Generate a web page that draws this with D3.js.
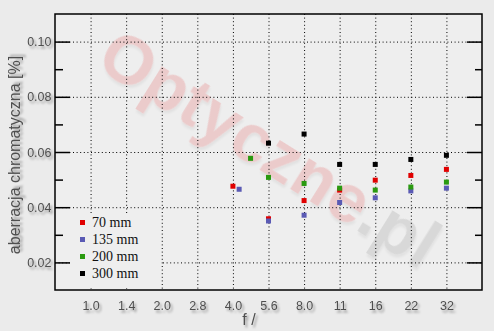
<!DOCTYPE html>
<html>
<head>
<meta charset="utf-8">
<script src="https://cdn.jsdelivr.net/npm/d3@7"></script>
<style>
  body { margin: 0; background: #ebebeb; }
  svg { display: block; }
</style>
</head>
<body>
<div id="chart"></div>
<script>
// f-number tick labels and their true positions (1/2 stop = sqrt2)
const fLabels = ["1.0", "1.4", "2.0", "2.8", "4.0", "5.6", "8.0", "11", "16", "22", "32"];
const fStops = [1, 1.414, 2, 2.828, 4, 5.657, 8, 11.31, 16, 22.63, 32];
const yTicks = [0.02, 0.04, 0.06, 0.08, 0.10];
const yMinor = [0.03, 0.05, 0.07, 0.09];

const seriesNames = ["70 mm", "135 mm", "200 mm", "300 mm"];
const seriesColors = ["#e00000", "#5a5ab4", "#2a9a10", "#000000"];

const f70 = [4, 5.657, 8, 11.31, 16, 22.63, 32];
const ca70 = [0.0476, 0.0358, 0.0424, 0.0462, 0.0498, 0.0515, 0.0537];
const f135 = [4.25, 5.657, 8, 11.31, 16, 22.63, 32];
const ca135 = [0.0465, 0.0350, 0.0371, 0.0417, 0.0434, 0.0459, 0.0469];
const f200 = [4.75, 5.657, 8, 11.31, 16, 22.63, 32];
const ca200 = [0.0577, 0.0508, 0.0486, 0.0469, 0.0462, 0.0473, 0.0491];
const f300 = [5.657, 8, 11.31, 16, 22.63, 32];
const ca300 = [0.0632, 0.0665, 0.0555, 0.0555, 0.0573, 0.0588];

const series = [
  { f: f70, v: ca70 },
  { f: f135, v: ca135 },
  { f: f200, v: ca200 },
  { f: f300, v: ca300 }
];

const w = 494;
const h = 331;
const pLeft = 55, pRight = 482, pTop = 14, pBottom = 290;

const xScale = d3.scaleLog().base(2)
                 .domain([Math.SQRT1_2, 32 * Math.SQRT2])
                 .range([pLeft, pRight]);
const yScale = d3.scaleLinear()
                 .domain([0.01, 0.11])
                 .range([pBottom, pTop]);

const svg = d3.select("#chart")
              .append("svg")
              .attr("width", w)
              .attr("height", h)
              .style("background", "#ebebeb");

const defs = svg.append("defs");
const sh = defs.append("filter").attr("id", "shadow")
  .attr("x", "-20%").attr("y", "-20%").attr("width", "150%").attr("height", "160%");
sh.append("feDropShadow").attr("dx", 2).attr("dy", 2.5).attr("stdDeviation", 1.3)
  .attr("flood-color", "#000").attr("flood-opacity", 0.35);

svg.append("rect")
   .attr("x", pLeft).attr("y", pTop)
   .attr("width", pRight - pLeft).attr("height", pBottom - pTop)
   .attr("fill", "#eeeeee");

// watermark
const wm = svg.append("text")
   .attr("transform", "translate(270,148) rotate(32)")
   .attr("text-anchor", "middle")
   .attr("dominant-baseline", "central")
   .style("font-family", "'Liberation Sans', Arial, sans-serif")
   .style("font-weight", "bold")
   .style("font-size", "68px")
   .attr("opacity", 0.15)
   .attr("filter", "url(#shadow)");
wm.append("tspan").attr("fill", "#e01010").text("Optyczne");
wm.append("tspan").attr("fill", "#606060").text(".pl");

// grid
svg.append("g")
   .attr("transform", "translate(0," + pTop + ")")
   .call(d3.axisBottom(xScale).tickValues(fStops).tickSize(pBottom - pTop).tickFormat(""))
   .call(g => g.select(".domain").remove())
   .call(g => g.selectAll("line").attr("stroke", "#000").attr("stroke-dasharray", "1,2.6"));

svg.append("g")
   .attr("transform", "translate(" + pLeft + ",0)")
   .call(d3.axisRight(yScale).tickValues(yTicks).tickSize(pRight - pLeft).tickFormat(""))
   .call(g => g.select(".domain").remove())
   .call(g => g.selectAll("line").attr("stroke", "#000").attr("stroke-dasharray", "1,2.6"));

// legend box covers grid
const legendX = 70, legendY = 214;
svg.append("rect")
   .attr("x", legendX).attr("y", legendY)
   .attr("width", 91).attr("height", 74)
   .attr("fill", "#eeeeee");

// ticks
const tickStyle = g => {
  g.select(".domain").remove();
  g.selectAll("line").attr("stroke", "#000").attr("stroke-width", 1.5);
};
svg.append("g")
   .attr("transform", "translate(" + pLeft + ",0)")
   .call(d3.axisLeft(yScale).tickValues(yTicks).tickSize(-15).tickPadding(3.5).tickFormat(d3.format(".2f")))
   .call(tickStyle)
   .call(g => g.selectAll("text")
      .attr("fill", "#505050")
      .attr("filter", "url(#shadow)")
      .style("font-family", "'Liberation Sans', Arial, sans-serif")
      .style("font-size", "12.5px"));
svg.append("g")
   .attr("transform", "translate(" + pLeft + ",0)")
   .call(d3.axisLeft(yScale).tickValues(yMinor).tickSize(-8).tickFormat(""))
   .call(tickStyle);
svg.append("g")
   .attr("transform", "translate(" + pRight + ",0)")
   .call(d3.axisRight(yScale).tickValues(yTicks).tickSize(-15).tickFormat(""))
   .call(tickStyle);
svg.append("g")
   .attr("transform", "translate(" + pRight + ",0)")
   .call(d3.axisRight(yScale).tickValues(yMinor).tickSize(-7).tickFormat(""))
   .call(tickStyle);

svg.append("g")
   .attr("transform", "translate(0," + pBottom + ")")
   .call(d3.axisBottom(xScale).tickValues(fStops).tickSize(0).tickPadding(11)
         .tickFormat((d, i) => fLabels[i]))
   .call(g => g.select(".domain").remove())
   .call(g => g.selectAll("text")
      .attr("fill", "#505050")
      .attr("filter", "url(#shadow)")
      .style("font-family", "'Liberation Sans', Arial, sans-serif")
      .style("font-size", "12.5px"));

// frame
svg.append("rect")
   .attr("x", pLeft).attr("y", pTop)
   .attr("width", pRight - pLeft).attr("height", pBottom - pTop)
   .attr("fill", "none")
   .attr("stroke", "#000")
   .attr("stroke-width", 1.5);

// points
series.forEach((s, k) => {
  svg.append("g").selectAll("rect")
     .data(s.v)
     .enter()
     .append("rect")
     .attr("x", (d, i) => xScale(s.f[i]) - 2.5)
     .attr("y", d => yScale(d) - 2.5)
     .attr("width", 5)
     .attr("height", 5)
     .attr("fill", seriesColors[k]);
});

// legend
const leg = svg.append("g");
seriesNames.forEach((name, k) => {
  const cy = 222.5 + k * 17;
  leg.append("rect")
     .attr("x", 80).attr("y", cy - 2.5)
     .attr("width", 5).attr("height", 5)
     .attr("fill", seriesColors[k]);
  leg.append("text")
     .attr("x", 92).attr("y", cy)
     .attr("dominant-baseline", "central")
     .attr("fill", "#111")
     .style("font-family", "'Liberation Serif', 'Times New Roman', serif")
     .style("font-size", "14px")
     .text(name);
});

// axis titles
svg.append("text")
   .attr("transform", "translate(20,155) rotate(-90)")
   .attr("text-anchor", "middle")
   .attr("fill", "#505050")
   .attr("filter", "url(#shadow)")
   .style("font-family", "'Liberation Sans', Arial, sans-serif")
   .style("font-size", "16px")
   .text("aberracja chromatyczna [%]");

svg.append("text")
   .attr("x", 249).attr("y", 325)
   .attr("text-anchor", "middle")
   .attr("fill", "#505050")
   .attr("filter", "url(#shadow)")
   .style("font-family", "'Liberation Sans', Arial, sans-serif")
   .style("font-size", "16px")
   .text("f /");
</script>
</body>
</html>
